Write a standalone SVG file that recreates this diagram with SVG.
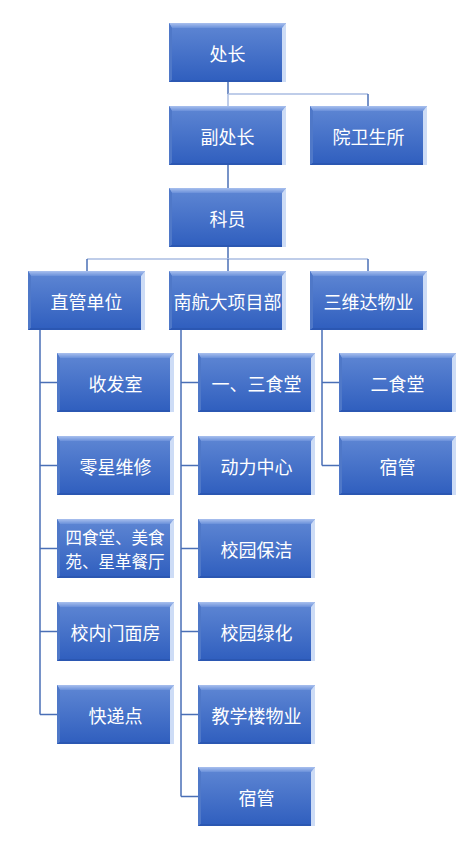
<svg xmlns="http://www.w3.org/2000/svg" xmlns:xlink="http://www.w3.org/1999/xlink" width="476" height="849" viewBox="0 0 476 849">
<style>
.lk{fill:none;stroke:#4a6fb6;stroke-width:1.5}
.ll{fill:none;stroke:#aabde2;stroke-width:1.5}
text{font-family:"Noto Sans CJK SC","Liberation Sans",sans-serif;font-size:18px;fill:#ffffff;text-anchor:middle;dominant-baseline:central}
.two{font-size:16.5px}
</style>
<defs>
<linearGradient id="g" x1="0" y1="0" x2="0" y2="1">
<stop offset="0" stop-color="#5f87d4"/>
<stop offset="1" stop-color="#2f5ebe"/>
</linearGradient>
<linearGradient id="gt" x1="0" y1="0" x2="0" y2="1">
<stop offset="0" stop-color="#a9c0ee"/>
<stop offset="1" stop-color="#6a90da"/>
</linearGradient>
<g id="box">
<rect width="117" height="59" fill="url(#g)"/>
<polygon points="0,0 117,0 113,5 3,5" fill="url(#gt)"/>
<polygon points="117,0 117,59 113,59 113,5" fill="#cddcf6"/>
<polygon points="0,0 3,5 3,57 0,59" fill="#4f78c8"/>
<polygon points="0,59 3,57 113,57 113,59" fill="#2b57b2"/>
</g>
</defs>
<g id="connectors">
<path class="lk" d="M228,82V94"/>
<path class="ll" d="M228,94H368"/>
<path class="ll" d="M228,94V106"/>
<path class="lk" d="M368,94V106"/>
<path class="lk" d="M228,165V188"/>
<path class="lk" d="M228,247V259"/>
<path class="ll" d="M87,259H368"/>
<path class="lk" d="M87,259V271"/>
<path class="lk" d="M228,259V271"/>
<path class="lk" d="M368,259V271"/>
<path class="lk" d="M40,330V714.5M40,382.5H57M40,465.5H57M40,548.5H57M40,631.5H57M40,714.5H57"/>
<path class="lk" d="M181,330V796.5M181,382.5H198M181,465.5H198M181,548.5H198M181,631.5H198M181,714.5H198M181,796.5H198"/>
<path class="lk" d="M322,330V465.5M322,382.5H339M322,465.5H339"/>
</g>
<g id="n-chuzhang" transform="translate(169,23)"><use xlink:href="#box"/><text x="58.5" y="29.5">处长</text></g>
<g id="n-fuchuzhang" transform="translate(169,106)"><use xlink:href="#box"/><text x="58.5" y="29.5">副处长</text></g>
<g id="n-weisheng" transform="translate(310,106)"><use xlink:href="#box"/><text x="58.5" y="29.5">院卫生所</text></g>
<g id="n-keyuan" transform="translate(169,188)"><use xlink:href="#box"/><text x="58.5" y="29.5">科员</text></g>
<g id="n-zhiguan" transform="translate(28,271)"><use xlink:href="#box"/><text x="58.5" y="29.5">直管单位</text></g>
<g id="n-nanhang" transform="translate(169,271)"><use xlink:href="#box"/><text x="58.5" y="29.5">南航大项目部</text></g>
<g id="n-sanweida" transform="translate(310,271)"><use xlink:href="#box"/><text x="58.5" y="29.5">三维达物业</text></g>
<g id="n-shoufa" transform="translate(57,353)"><use xlink:href="#box"/><text x="58.5" y="29.5">收发室</text></g>
<g id="n-lingxing" transform="translate(57,436)"><use xlink:href="#box"/><text x="58.5" y="29.5">零星维修</text></g>
<g id="n-sishitang" transform="translate(57,519)"><use xlink:href="#box"/><text class="two" x="58" y="17.5">四食堂、美食</text><text class="two" x="58" y="41.5">苑、星革餐厅</text></g>
<g id="n-menmian" transform="translate(57,602)"><use xlink:href="#box"/><text x="58.5" y="29.5">校内门面房</text></g>
<g id="n-kuaidi" transform="translate(57,685)"><use xlink:href="#box"/><text x="58.5" y="29.5">快递点</text></g>
<g id="n-yisan" transform="translate(198,353)"><use xlink:href="#box"/><text x="58.5" y="29.5">一、三食堂</text></g>
<g id="n-dongli" transform="translate(198,436)"><use xlink:href="#box"/><text x="58.5" y="29.5">动力中心</text></g>
<g id="n-baojie" transform="translate(198,519)"><use xlink:href="#box"/><text x="58.5" y="29.5">校园保洁</text></g>
<g id="n-lvhua" transform="translate(198,602)"><use xlink:href="#box"/><text x="58.5" y="29.5">校园绿化</text></g>
<g id="n-jiaoxue" transform="translate(198,685)"><use xlink:href="#box"/><text x="58.5" y="29.5">教学楼物业</text></g>
<g id="n-suguan1" transform="translate(198,767)"><use xlink:href="#box"/><text x="58.5" y="29.5">宿管</text></g>
<g id="n-ershitang" transform="translate(339,353)"><use xlink:href="#box"/><text x="58.5" y="29.5">二食堂</text></g>
<g id="n-suguan2" transform="translate(339,436)"><use xlink:href="#box"/><text x="58.5" y="29.5">宿管</text></g>
</svg>
